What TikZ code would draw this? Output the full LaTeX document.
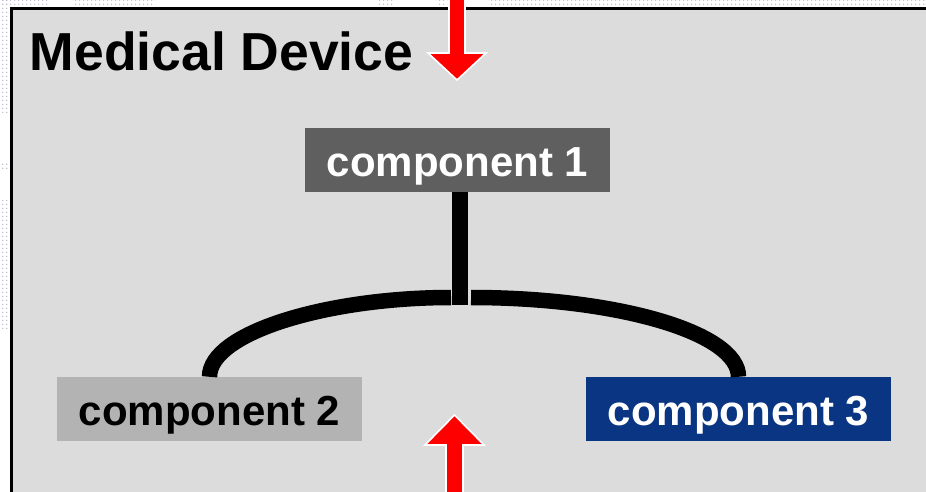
\documentclass[tikz,border=0pt]{standalone}
\usepackage{fontspec}
\setmainfont{Liberation Sans}
\usetikzlibrary{patterns.meta}
\definecolor{bgc}{HTML}{DCDCDC}
\definecolor{c1c}{HTML}{5F5F5F}
\definecolor{c2c}{HTML}{B3B3B3}
\definecolor{c3c}{HTML}{0A3583}
\definecolor{dotc}{HTML}{BDBDD2}
\definecolor{arrred}{HTML}{FF0000}
\begin{document}
\begin{tikzpicture}[x=1pt,y=-1pt,
  comp/.style={rectangle, inner sep=0pt, minimum width=305pt, minimum height=64pt,
    font=\fontsize{42}{42}\selectfont\bfseries, text height=32.8pt, text depth=0pt},
  conn/.style={line width=15.5pt, line cap=butt, draw=black},
  bigarrow/.style={fill=arrred, draw=white, line width=1.6pt, line join=miter},
  dotfill/.style={pattern={Dots[distance=4pt,radius=0.9pt]}, pattern color=dotc}]
\useasboundingbox (0,0) rectangle (926,492);
\begin{scope}
\clip (0,0) rectangle (926,492);
% dotted margins
\fill[dotfill] (0,0) rectangle (48,7);
\fill[dotfill] (72,0) rectangle (155,7);
\fill[dotfill] (377,0) rectangle (393,7);
\fill[dotfill] (436,0) rectangle (447,7);
\fill[dotfill] (488,0) rectangle (926,7);
\fill[dotfill] (0,0) rectangle (8,115);
\fill[dotfill] (0,163) rectangle (8,170);
\fill[dotfill] (0,200) rectangle (8,330);
% device box
\draw[fill=bgc, draw=black, line width=3pt] (11,9) rectangle (945,510);
\node[anchor=base west, inner sep=0pt, font=\fontsize{53.5}{53.5}\selectfont\bfseries] (title) at (29.5,71) {Medical Device};
% components
\node[comp, fill=c1c, text=white] (c1) at (457.5,160) {component 1};
\node[comp, fill=c2c, text=black] (c2) at (209.5,409) {component 2};
\node[comp, fill=c3c, text=white] (c3) at (738.5,409) {component 3};
% connectors
\coordinate (jv) at (460,304.5);
\coordinate (jl) at (451,297.5);
\coordinate (jr) at (471,297.5);
\draw[conn] (c1.south -| jv) -- (jv);
\draw[conn] (c2.north) .. controls +(0,-44) and (327,297.5) .. (jl);
\draw[conn] (c3.north) .. controls +(0,-44) and (618,297.5) .. (jr);
% red arrows
\draw[bigarrow] (449,-5) -- (465,-5) -- (465,53) -- (486,53) -- (457,80) -- (428,53) -- (449,53) -- cycle;
\draw[bigarrow] (446,500) -- (463,500) -- (463,445) -- (484,445) -- (454.5,415) -- (425,445) -- (446,445) -- cycle;
\end{scope}
\end{tikzpicture}
\end{document}
